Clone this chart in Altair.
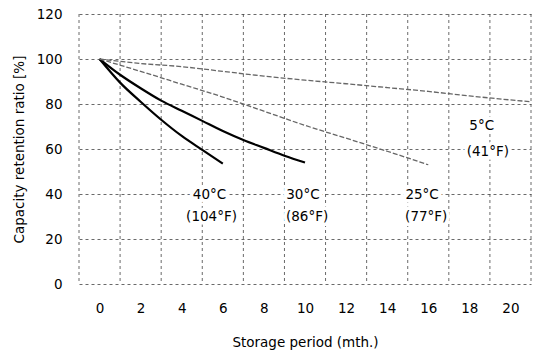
import altair as alt
import pandas as pd

# --- data ---
months_40 = [0, 1, 2, 3, 4, 5, 6]
ret_40 = [100, 89.5, 81, 73, 65.8, 59.6, 53.5]
months_30 = [0, 1, 2, 3, 4, 5, 6, 7, 8, 9, 10]
ret_30 = [100, 93, 87, 81.5, 77, 72.5, 68, 64, 60.5, 57, 54]
months_25 = [0, 2, 4, 6, 8, 10, 12, 14, 16]
ret_25 = [100, 94.5, 88.8, 83.1, 76.8, 70.5, 64.8, 59, 53]
months_5 = [0, 2, 4, 6, 8, 10, 12, 14, 16, 18, 20, 21]
ret_5 = [100, 98, 96.6, 94.5, 92.4, 90.6, 89, 87.3, 85.6, 83.6, 81.8, 81]

x_ticks = [0, 2, 4, 6, 8, 10, 12, 14, 16, 18, 20]
y_ticks = [0, 20, 40, 60, 80, 100, 120]
x_grid = [-1, 1, 3, 5, 7, 9, 11, 13, 15, 17, 19, 21]

label_text = ["40°C", "(104°F)", "30°C", "(86°F)", "25°C", "(77°F)", "5°C", "(41°F)"]
label_x = [5.35, 5.45, 9.9, 10.1, 15.7, 15.9, 18.6, 18.9]
label_y = [39.6, 29.8, 39.6, 29.8, 39.6, 29.8, 70.2, 58.7]

FONT = "DejaVu Sans"
FS = 13.5

rows = []
for name, ms, vs, kind in [("40°C", months_40, ret_40, "solid"),
                           ("30°C", months_30, ret_30, "solid"),
                           ("25°C", months_25, ret_25, "dash"),
                           ("5°C", months_5, ret_5, "dash")]:
    for m, v in zip(ms, vs):
        rows.append({"series": name, "month": m, "ret": v, "kind": kind})
df = pd.DataFrame(rows)

xscale = alt.Scale(domain=[-1, 21], nice=False, zero=False)
yscale = alt.Scale(domain=[0, 120], nice=False)

x_axis = alt.Axis(values=x_ticks, title="Storage period (mth.)", grid=False,
                  ticks=False, domain=False, labelPadding=17, titlePadding=21,
                  labelFont=FONT, titleFont=FONT, labelFontSize=FS, titleFontSize=FS,
                  titleFontWeight="normal", labelColor="black", titleColor="black")
y_axis = alt.Axis(values=y_ticks, title="Capacity retention ratio [%]", grid=True,
                  gridDash=[3, 3], gridColor="#444", gridWidth=0.8,
                  ticks=False, domain=False, labelPadding=17, titlePadding=10,
                  labelFont=FONT, titleFont=FONT, labelFontSize=FS, titleFontSize=FS,
                  titleFontWeight="normal", labelColor="black", titleColor="black")

grid_df = pd.DataFrame({"gx": x_grid})
vgrid = alt.Chart(grid_df).mark_rule(color="#444", strokeWidth=0.8, strokeDash=[3, 3]).encode(
    x=alt.X("gx:Q", scale=xscale, axis=x_axis))

solid = alt.Chart(df).transform_filter(alt.datum.kind == "solid").mark_line(
    color="black", strokeWidth=2.2, interpolate="monotone").encode(
    x=alt.X("month:Q", scale=xscale, axis=x_axis),
    y=alt.Y("ret:Q", scale=yscale, axis=y_axis), detail="series:N")
dashed = alt.Chart(df).transform_filter(alt.datum.kind == "dash").mark_line(
    color="#666", strokeWidth=1.3, strokeDash=[5, 2], interpolate="monotone").encode(
    x=alt.X("month:Q", scale=xscale), y=alt.Y("ret:Q", scale=yscale), detail="series:N")

lab_df = pd.DataFrame({"t": label_text, "lx": label_x, "ly": label_y})
halo = alt.Chart(lab_df).mark_text(font=FONT, fontSize=FS, stroke="white", strokeWidth=7,
                                   color="white").encode(
    x=alt.X("lx:Q", scale=xscale), y=alt.Y("ly:Q", scale=yscale), text="t:N")
labels = alt.Chart(lab_df).mark_text(font=FONT, fontSize=FS, color="black").encode(
    x=alt.X("lx:Q", scale=xscale), y=alt.Y("ly:Q", scale=yscale), text="t:N")

chart = alt.layer(vgrid, solid, dashed, halo, labels).properties(
    width=452, height=270,
    autosize=alt.AutoSizeParams(type="none"),
    padding={"left": 79, "top": 14, "right": 2, "bottom": 70},
    background="white",
).configure_view(stroke=None)

chart.save("out.html", embed_options={"renderer": "svg", "actions": False})
